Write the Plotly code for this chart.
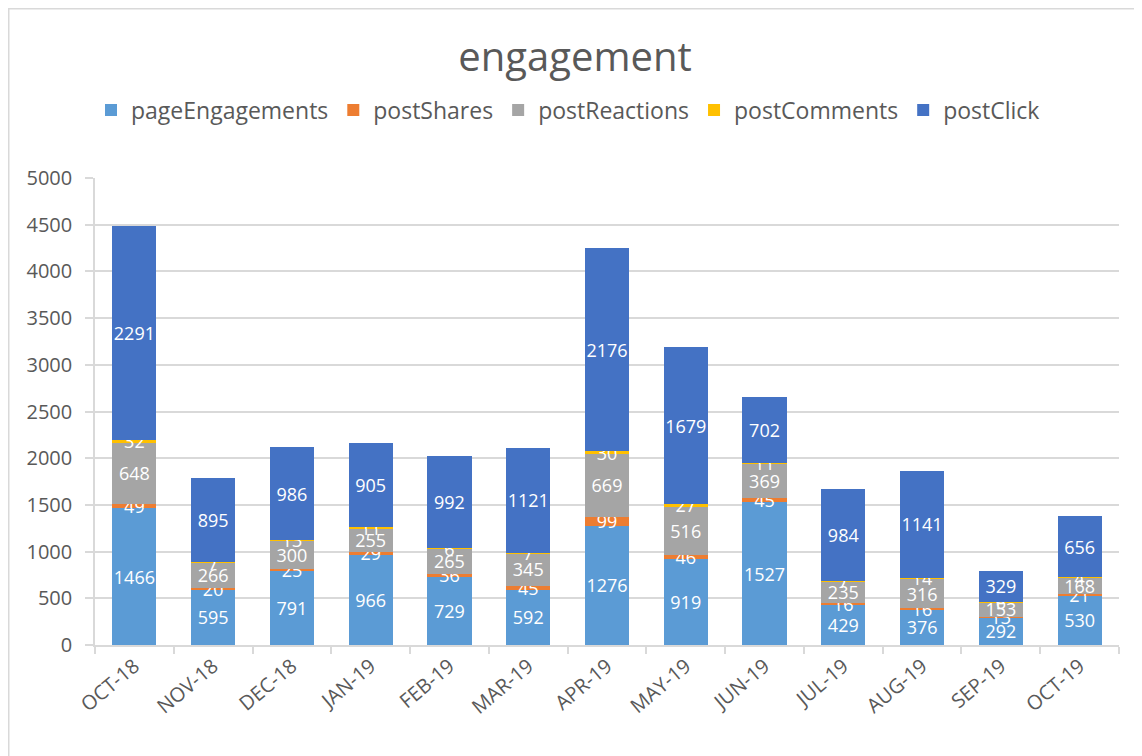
import plotly.graph_objects as go

months = ["OCT-18", "NOV-18", "DEC-18", "JAN-19", "FEB-19", "MAR-19", "APR-19",
          "MAY-19", "JUN-19", "JUL-19", "AUG-19", "SEP-19", "OCT-19"]

page_engagements = [1466, 595, 791, 966, 729, 592, 1276, 919, 1527, 429, 376, 292, 530]
post_shares      = [49, 20, 25, 29, 36, 45, 99, 46, 45, 16, 16, 13, 21]
post_reactions   = [648, 266, 300, 255, 265, 345, 669, 516, 369, 235, 316, 153, 168]
post_comments    = [32, 7, 13, 11, 6, 7, 30, 27, 11, 7, 14, 6, 4]
post_click       = [2291, 895, 986, 905, 992, 1121, 2176, 1679, 702, 984, 1141, 329, 656]

series = [
    ("pageEngagements", page_engagements, "#5B9BD5"),
    ("postShares",      post_shares,      "#ED7D31"),
    ("postReactions",   post_reactions,   "#A5A5A5"),
    ("postComments",    post_comments,    "#FFC000"),
    ("postClick",       post_click,       "#4472C4"),
]

FONT = "'Open Sans', sans-serif"
GREY = "#595959"
LINE = "#D9D9D9"

# page body adds an 8px margin, so the figure is 8px smaller than the window
W, H = 1134, 748
L, R, T, B = 87, 23, 170, 111
PW, PH = W - L - R, H - T - B

fig = go.Figure()
for name, vals, color in series:
    fig.add_trace(go.Bar(
        x=months, y=vals, name=name,
        marker=dict(color=color, line=dict(width=0)),
        text=[str(v) for v in vals],
        textposition="inside",
        insidetextanchor="middle",
        constraintext="none",
        textangle=0,
        textfont=dict(family=FONT, size=18, color="white"),
        cliponaxis=False,
    ))

fig.update_layout(
    barmode="stack",
    bargap=0.44,
    width=W, height=H,
    paper_bgcolor="white", plot_bgcolor="white",
    margin=dict(l=L, r=R, t=T, b=B, autoexpand=False),
    font=dict(family=FONT, color=GREY),
    title=dict(text="engagement", x=567 / W, xref="container", xanchor="center",
               y=1 - 49 / H, yanchor="middle", yref="container",
               font=dict(size=40, color=GREY)),
    legend=dict(orientation="h", x=560 / W, xanchor="center", xref="container",
                y=1 - 102 / H, yanchor="middle", yref="container",
                font=dict(size=23, color=GREY), traceorder="normal",
                itemwidth=30, tracegroupgap=0),
    showlegend=True,
    shapes=[dict(type="rect", xref="paper", yref="paper",
                 x0=(0.75 - L) / PW, x1=1.05, y0=-0.3, y1=(PH + T - 0.75) / PH,
                 line=dict(color=LINE, width=1.5), layer="below")],
)

fig.update_yaxes(
    range=[0, 5000], dtick=500, showgrid=True, gridcolor=LINE, gridwidth=1.5,
    zeroline=False, showline=True, linecolor=LINE, linewidth=1.5,
    ticks="outside", ticklen=8, tickcolor=LINE, tickwidth=1.5,
    ticklabelstandoff=9, automargin=False,
    tickfont=dict(size=20, color=GREY),
)
fig.update_xaxes(
    showline=True, linecolor=LINE, linewidth=1.5, automargin=False,
    ticks="outside", tickson="boundaries", ticklen=7, tickcolor=LINE, tickwidth=1.5,
    tickangle=-40, tickfont=dict(size=20, color=GREY),
)

fig.write_html("out.html")
